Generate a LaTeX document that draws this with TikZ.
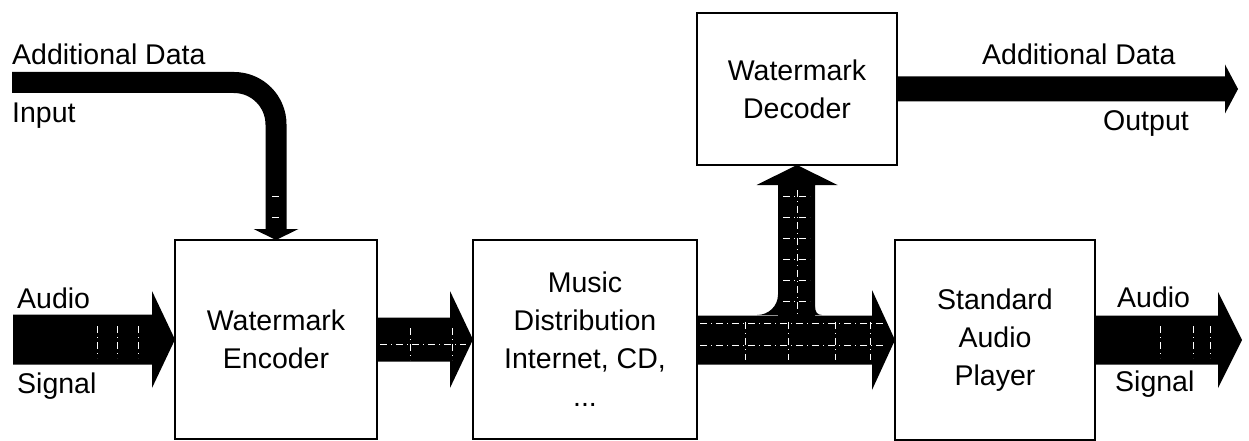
\documentclass[tikz,border=0pt]{standalone}
\usepackage{fontspec}
\setmainfont{Liberation Sans}
\usetikzlibrary{calc}
\newcommand\lblfont{\fontsize{28.5}{38}\selectfont}
\newcommand\fatH[5]{\fill ($(#1 |- #2)+(0,-#3)$) -- ($(#2)+(-#5,-#3)$) -- ($(#2)+(-#5,-#4)$) -- (#2) -- ($(#2)+(-#5,#4)$) -- ($(#2)+(-#5,#3)$) -- ($(#1 |- #2)+(0,#3)$) -- cycle;}
\begin{document}
\begin{tikzpicture}[x=1pt,y=-1pt,
  box/.style={draw, line width=2.5pt, outer sep=0pt, inner sep=0pt, align=center, font=\lblfont},
  lbl/.style={font=\lblfont, inner sep=0pt, anchor=base west},
  gridl/.style={white, line width=0.5pt, dash pattern=on 7pt off 4pt on 1pt off 4pt}]
\useasboundingbox (0,0) rectangle (1249,441);
% boxes
\node[box, minimum width=202pt, minimum height=199pt] (enc) at (276,339.5) {Watermark\\Encoder};
\node[box, minimum width=224pt, minimum height=199pt] (dist) at (585,339.5) {Music\\Distribution\\Internet, CD,\\...};
\node[box, minimum width=200pt, minimum height=152pt] (dec) at (797,89) {Watermark\\Decoder};
\node[box, minimum width=200pt, minimum height=200pt] (player) at (995,340) {Standard\\Audio\\Player};
% free ends
\coordinate (ain) at (13,340);
\coordinate (aout) at (1242,340);
\coordinate (dout) at (1238,89);
\coordinate (din) at (12,82.5);
\coordinate (br) at (dec.south |- dist.east);
% fat arrows
\fatH{ain}{enc.west}{25}{48.5}{23}
\fatH{enc.east}{dist.west}{22}{48.5}{23}
\fatH{dist.east}{player.west}{24.5}{50}{23}
\fatH{player.east}{aout}{24.5}{48}{24}
\fatH{dec.east}{dout}{12.5}{24.5}{13}
% branch up to decoder
\fill ($(dec.south)+(-19,20)$) -- ($(dec.south)+(-40.5,20)$) -- (dec.south) -- ($(dec.south)+(40.5,20)$) -- ($(dec.south)+(18,20)$) -- ($(br)+(18,0)$) -- ($(br)+(-19,0)$) -- cycle;
\fill ($(br)+(-19,-45)$) .. controls ($(br)+(-19,-33.4)$) and ($(br)+(-28.4,-24.5)$) .. ($(br)+(-40,-24.5)$) -- ($(br)+(-19,-24.5)$) -- cycle;
\fill ($(br)+(18,-33)$) .. controls ($(br)+(18,-28)$) and ($(br)+(20,-24.5)$) .. ($(br)+(25,-24.5)$) -- ($(br)+(18,-24.5)$) -- cycle;
% input curved arrow
\draw[line width=21pt, rounded corners=42pt] (din) -- (din -| enc.north) -- ($(enc.north)+(0,-10)$);
\fill ($(enc.north)+(-22.5,-11)$) -- (enc.north) -- ($(enc.north)+(22.5,-11)$) -- cycle;
% white halftone marks
\foreach \x in {97,117,138} \draw[gridl] (\x,326) -- (\x,358);
\draw[gridl] (380,344) -- (466,344);
\foreach \x in {410,452} \draw[gridl] (\x,328) -- (\x,360);
\draw[gridl] (700,323) -- (885,323);
\draw[gridl] (700,345) -- (885,345);
\foreach \x in {745,788,835,870} \draw[gridl] (\x,322) -- (\x,360);
\foreach \y in {196,217,238,259,280,301} \draw[gridl] (783,\y) -- (810,\y);
\draw[gridl] (797,190) -- (797,315);
\foreach \x in {1160,1193,1210} \draw[gridl] (\x,326) -- (\x,358);
\foreach \y in {196,217} \draw[gridl] (272,\y) -- (280,\y);
% labels
\node[lbl] (l1) at (12,65) {Additional Data};
\node[lbl] (l2) at (12,123) {Input};
\node[lbl] (l3) at (17,308) {Audio};
\node[lbl] (l4) at (17,393) {Signal};
\node[lbl] (l5) at (982,65) {Additional Data};
\node[lbl] (l6) at (1103,130) {Output};
\node[lbl] (l7) at (1117,307) {Audio};
\node[lbl] (l8) at (1115,391) {Signal};
\end{tikzpicture}
\end{document}
